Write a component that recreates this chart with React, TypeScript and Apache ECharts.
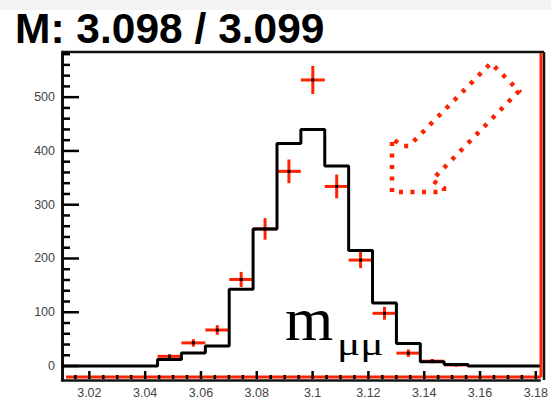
import React, { useEffect, useRef } from "react";
import * as echarts from "echarts";

// ---- data ----
const titleText = "M: 3.098 / 3.099";
const xMin = 3.0102;
const xMax = 3.1814;
const binCount = 20;
const mcCounts = [0, 0, 0, 0, 12, 24, 37, 143, 255, 414, 440, 372, 215, 117, 42, 8, 3, 0, 0, 0];
const dataCounts = [null, null, null, null, 18, 43, 67, 161, 255, 362, 532, 334, 197, 98, 24, 9, 2, null, null, null];
const dataErrors = [0, 0, 0, 0, 4, 7, 9, 14, 20, 22, 26, 22, 15, 12, 7, 4, 1, 0, 0, 0];
const xTickValues = [3.02, 3.04, 3.06, 3.08, 3.1, 3.12, 3.14, 3.16, 3.18];
const xMinorTickValues = [
  3.015, 3.025, 3.03, 3.035, 3.045, 3.05, 3.055, 3.065, 3.07, 3.075, 3.085, 3.09, 3.095,
  3.105, 3.11, 3.115, 3.125, 3.13, 3.135, 3.145, 3.15, 3.155, 3.165, 3.17, 3.175,
];
const yMin = -26;
const yMax = 584;
const yTickValues = [0, 100, 200, 300, 400, 500];
const yMinorTickValues = [
  20, 40, 60, 80, 120, 140, 160, 180, 220, 240, 260, 280, 320, 340, 360, 380,
  420, 440, 460, 480, 520, 540, 560, 580,
];
const massLabel = "m";
const massSub = "μμ";

const RED = "#ff2200";

export default function App() {
  const ref = useRef<HTMLDivElement>(null);

  useEffect(() => {
    if (!ref.current) return;
    const chart = echarts.init(ref.current, undefined, { renderer: "svg" });
    const binWidth = (xMax - xMin) / binCount;

    const histPoints: number[][] = mcCounts.map((c, i) => [xMin + i * binWidth, c]);
    histPoints.push([xMax, mcCounts[mcCounts.length - 1]]);

    const crossData: number[][] = [];
    dataCounts.forEach((c, i) => {
      if (c !== null) crossData.push([xMin + (i + 0.5) * binWidth, c, dataErrors[i]]);
    });

    const fmtX = (v: number) => String(+(+v).toFixed(3));
    const labelFont = { fontFamily: "Liberation Sans", fontSize: 12.5, color: "#444" };

    // all tick marks drawn as one group through the grid's scales
    const renderTicks = (params: any, api: any) => {
      const children: any[] = [];
      const tick = (a: number[], b: number[]) =>
        children.push({
          type: "polyline",
          shape: { points: [a, b] },
          style: { stroke: "#000", lineWidth: 2.5, fill: null },
        });
      const mid = (xMin + xMax) / 2;
      const yMid = (yMin + yMax) / 2;
      const bottom = api.coord([mid, yMin])[1];
      const left = api.coord([xMin, yMid])[0];
      xTickValues.forEach((v) => {
        const x = api.coord([v, yMid])[0];
        tick([x, bottom - 1], [x, bottom - 9]);
      });
      xMinorTickValues.forEach((v) => {
        const x = api.coord([v, yMid])[0];
        tick([x, bottom - 1], [x, bottom - 5]);
      });
      yTickValues.forEach((v) => {
        const y = api.coord([mid, v])[1];
        tick([left + 1, y], [left + 17, y]);
      });
      yMinorTickValues.forEach((v) => {
        const y = api.coord([mid, v])[1];
        tick([left + 1, y], [left + 8, y]);
      });
      return { type: "group", children };
    };

    chart.setOption({
      animation: false,
      backgroundColor: "#ffffff",
      grid: {
        left: 62,
        top: 52,
        width: 482,
        height: 328,
        show: false,
        containLabel: false,
      },
      xAxis: {
        type: "value",
        min: xMin,
        max: xMax,
        position: "bottom",
        axisLine: { show: true, onZero: false, lineStyle: { color: "#111", width: 2.5 } },
        splitLine: { show: false },
        axisTick: { show: false },
        axisLabel: {
          show: true,
          customValues: xTickValues,
          formatter: fmtX,
          margin: 6,
          ...labelFont,
        },
      },
      yAxis: {
        type: "value",
        min: yMin,
        max: yMax,
        position: "left",
        axisLine: { show: true, onZero: false, lineStyle: { color: "#111", width: 3 } },
        splitLine: { show: false },
        axisTick: { show: false },
        axisLabel: {
          show: true,
          customValues: yTickValues,
          margin: 7,
          padding: [0, 0, 6, 0],
          ...labelFont,
        },
      },
      series: [
        {
          type: "custom",
          z: 3,
          data: crossData,
          renderItem: (params: any, api: any) => {
            const x = api.value(0);
            const y = api.value(1);
            const e = api.value(2);
            const half = binWidth / 2;
            const pL = api.coord([x - half, y]);
            const pR = api.coord([x + half, y]);
            const pT = api.coord([x, y + e]);
            const pB = api.coord([x, y - e]);
            const pC = api.coord([x, y]);
            return {
              type: "group",
              children: [
                { type: "line", shape: { x1: pL[0], y1: pL[1], x2: pR[0], y2: pR[1] }, style: { stroke: RED, lineWidth: 3 } },
                { type: "line", shape: { x1: pT[0], y1: pT[1], x2: pB[0], y2: pB[1] }, style: { stroke: RED, lineWidth: 3 } },
                { type: "rect", shape: { x: pC[0] - 1.5, y: pC[1] - 1.5, width: 3, height: 3 }, style: { fill: "#000" } },
              ],
            };
          },
        },
        {
          type: "line",
          z: 4,
          step: "end",
          symbol: "none",
          data: histPoints,
          lineStyle: { color: "#000", width: 3 },
        },
        {
          type: "custom",
          z: 5,
          clip: false,
          data: [[(xMin + xMax) / 2, (yMin + yMax) / 2]],
          renderItem: renderTicks,
        },
      ],
      graphic: [
        { type: "rect", z: 0, shape: { x: 0, y: 0, width: 551, height: 10 }, style: { fill: "#f3f3f3" } },
        {
          type: "line",
          z: 1,
          shape: { x1: 62, y1: 52, x2: 544, y2: 52 },
          style: { stroke: "#111", lineWidth: 2.5 },
        },
        {
          type: "line",
          z: 1,
          shape: { x1: 544, y1: 52, x2: 544, y2: 380 },
          style: { stroke: "#111", lineWidth: 2.5 },
        },
        {
          type: "line",
          z: 1,
          shape: { x1: 66, y1: 377, x2: 541, y2: 377 },
          style: { stroke: RED, lineWidth: 3 },
        },
        {
          type: "line",
          z: 1,
          shape: { x1: 541, y1: 53, x2: 541, y2: 377 },
          style: { stroke: RED, lineWidth: 3 },
        },
        {
          type: "polygon",
          z: 6,
          shape: {
            points: [
              [392, 192], [392, 138], [402, 146], [409, 146], [491, 63],
              [519, 91], [432, 180], [444, 188], [444, 192],
            ],
          },
          style: { fill: "none", stroke: RED, lineWidth: 4.5, lineDash: [4, 7.5] },
        },
        {
          type: "text",
          z: 7,
          x: 15,
          y: 7,
          style: {
            text: titleText,
            font: 'bold 42.5px "Liberation Sans"',
            fill: "#000",
            verticalAlign: "top",
          },
        },
        {
          type: "text",
          z: 7,
          x: 285,
          y: 288,
          style: {
            text: massLabel,
            font: '62px "Liberation Serif"',
            fill: "#000",
            verticalAlign: "top",
          },
        },
        {
          type: "text",
          z: 7,
          x: 337,
          y: 328,
          scaleX: 1.36,
          style: {
            text: massSub,
            font: '32px "Liberation Serif"',
            fill: "#000",
            verticalAlign: "top",
          },
        },
      ],
    });

    return () => chart.dispose();
  }, []);

  return (
    <div
      ref={ref}
      style={{ position: "absolute", left: 0, top: 0, width: 551, height: 419, background: "#fff" }}
    />
  );
}
